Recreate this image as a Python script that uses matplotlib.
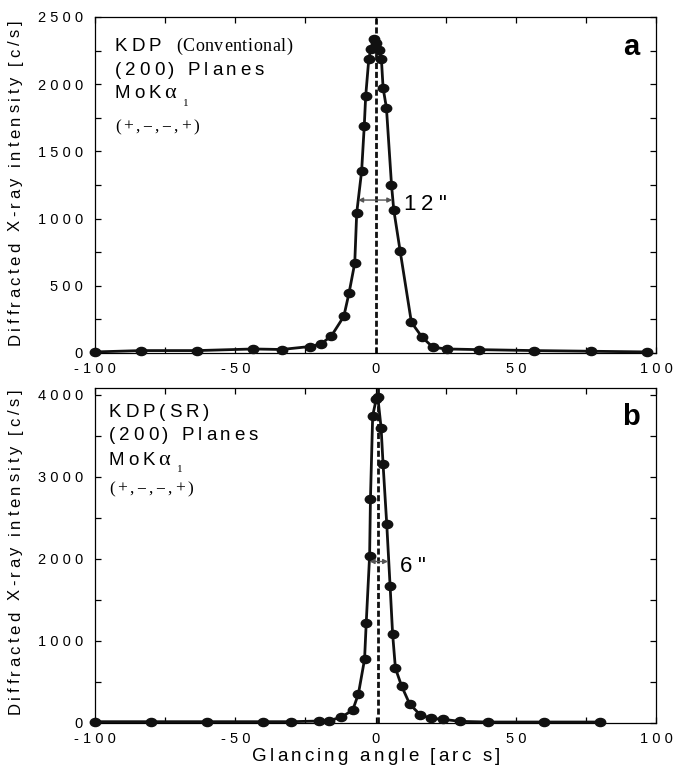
import matplotlib
matplotlib.use("Agg")
import matplotlib.pyplot as plt
from matplotlib.font_manager import FontProperties, findfont, get_font
from matplotlib.ticker import MultipleLocator, FuncFormatter
from matplotlib.path import Path
from matplotlib.transforms import Affine2D

W, H = 673, 771

# panel a: conventional source
angle_a = [-100, -83.5, -63.5, -43.5, -33.5, -23.5, -19.5, -15.7, -11.3, -9.4,
           -7.4, -6.7, -4.95, -4.0, -3.5, -2.4, -1.65, -0.5, 0.35, 1.3,
           2.1, 2.7, 3.9, 5.7, 6.5, 8.8, 12.8, 16.6, 20.5, 25.5,
           37, 56.5, 77, 96.8]
counts_a = [8, 18, 18, 30, 26, 48, 66, 128, 272, 450,
            669, 1042, 1352, 1692, 1911, 2184, 2263, 2333, 2308, 2258,
            2189, 1973, 1824, 1253, 1067, 757, 228, 118, 42, 30,
            25, 18, 13, 8]

# panel b: synchrotron radiation
angle_b = [-100, -80, -60, -40, -30, -20.2, -16.6, -12.2, -8.1, -6.1,
           -3.9, -3.3, -2.1, -1.8, -1.0, 0.3, 0.8, 2.0, 2.7, 4.0,
           5.2, 6.1, 7.1, 9.3, 12.2, 16.0, 19.8, 24.0, 30.2, 40,
           60, 80]
counts_b = [16, 16, 16, 16, 16, 24, 30, 69, 159, 354,
            776, 1224, 2037, 2732, 3744, 3950, 3975, 3594, 3150, 2427,
            1671, 1085, 667, 451, 230, 98, 57, 45, 20, 12,
            12, 12]

peak_a, peak_b = 0, 1
fwhm_a = (-6.2, 6.0, 1138)
fwhm_b = (-2.1, 4.5, 1967)

plt.rcParams["font.family"] = "Liberation Sans"

fig = plt.figure(figsize=(W / 100, H / 100), dpi=100)
ax_a = fig.add_axes([95 / W, 1 - 353 / H, 561 / W, 336 / H])
ax_b = fig.add_axes([95 / W, 1 - 723 / H, 561 / W, 335 / H])
# transparent layer on top for all free text
overlay = fig.add_axes([0, 0, 1, 1], zorder=10)
overlay.axis("off")


def text_width(s, size, track, family="Liberation Sans", weight="normal"):
    font = get_font(findfont(FontProperties(family=family, weight=weight)))
    font.set_size(size, 72)
    adv = [font.load_char(ord(c)).linearHoriAdvance / 65536 for c in s]
    return adv, sum(adv) + track * (len(s) - 1)


def spaced(x, y, s, size, track=0.0, family="Liberation Sans", weight="normal",
           ha="left", rotation=0):
    # letter-spaced text, x/y in pixels from top-left, returns end x in pixels
    adv, total = text_width(s, size, track, family, weight)
    pen = {"left": 0.0, "center": -total / 2, "right": -total}[ha]
    dx, dy = (1, 0) if rotation == 0 else (0, 1)
    for c, a in zip(s, adv):
        if c != " ":
            overlay.annotate(c, (x, H - y), xycoords="figure pixels",
                             xytext=(pen * dx, pen * dy), textcoords="offset points",
                             ha="left", va="baseline", rotation=rotation,
                             rotation_mode="anchor", fontsize=size,
                             family=family, weight=weight, annotation_clip=False)
        pen += a + track
    return x + (pen - track) * 100 / 72


def spaced_fmt(v, pos):
    return " ".join(f"{v:g}")


ellipse = Path.unit_circle().transformed(Affine2D().scale(1.0, 0.78))

for ax, xs, ys, peak, (x0, x1, yh), ymax, ystep in [
        (ax_a, angle_a, counts_a, peak_a, fwhm_a, 2500, 250),
        (ax_b, angle_b, counts_b, peak_b, fwhm_b, 4080, 500)]:
    ax.axvline(peak, color="#111", lw=2, ls=(0, (2.2, 1.0)), zorder=1)
    ax.plot(xs, ys, color="#111", lw=2, marker=ellipse, ms=7.5, zorder=3,
            clip_on=False)
    ax.annotate("", xy=(x0, yh), xytext=(x1, yh),
                arrowprops=dict(arrowstyle="<|-|>", color="#555", lw=1.0,
                                mutation_scale=7, shrinkA=0, shrinkB=0))
    ax.set_xlim(-100, 100)
    ax.set_ylim(0, ymax)
    ax.xaxis.set_major_locator(MultipleLocator(50))
    ax.xaxis.set_minor_locator(MultipleLocator(25))
    ax.yaxis.set_major_locator(MultipleLocator(ystep * 2))
    ax.yaxis.set_minor_locator(MultipleLocator(ystep))
    ax.xaxis.set_major_formatter(FuncFormatter(spaced_fmt))
    ax.yaxis.set_major_formatter(FuncFormatter(spaced_fmt))
    ax.tick_params(which="both", direction="in", length=4.3, width=0.9,
                   top=True, right=True, labelsize=10.5)
    ax.tick_params(axis="y", pad=8.6)
    ax.tick_params(axis="x", pad=6.5)
    for sp in ax.spines.values():
        sp.set_linewidth(0.9)

# axis titles
spaced(376, 761, "Glancing angle [arc s]", 13.5, 2.3, ha="center")
ylab = "Diffracted X-ray intensity [c/s]"
_, ylab_w = text_width(ylab, 12, 2.5)
for cy in (183, 552):
    spaced(20, cy + ylab_w * 100 / 72 / 2, ylab, 12, 2.5, rotation=90)

# panel a notes
spaced(115, 51, "KDP", 13.5, 2.8)
spaced(176, 51, "(Conventional)", 13, 0.4, family="Liberation Serif")
spaced(115, 75, "(200) Planes", 13.5, 2.8)
end = spaced(115, 98, "MoK", 13.5, 2.8)
end = spaced(end + 3, 98, "\u03b1", 16, family="Liberation Serif")
spaced(end + 7, 106, "1", 8, family="Liberation Serif")
spaced(115, 131, "(+,\u2212,\u2212,+)", 12.5, 1.8, family="Liberation Serif")
spaced(403, 210, "12\"", 16, 4)
spaced(631, 55, "a", 21, weight="bold", ha="center")

# panel b notes
spaced(109, 417, "KDP(SR)", 13.5, 2.8)
spaced(109, 440, "(200) Planes", 13.5, 2.8)
end = spaced(109, 465, "MoK", 13.5, 2.8)
end = spaced(end + 3, 465, "\u03b1", 16, family="Liberation Serif")
spaced(end + 7, 472, "1", 8, family="Liberation Serif")
spaced(109, 493, "(+,\u2212,\u2212,+)", 12.5, 1.8, family="Liberation Serif")
spaced(400, 572, "6\"", 16, 4)
spaced(631, 425, "b", 21, weight="bold", ha="center")

fig.savefig("out.png", dpi=100)
